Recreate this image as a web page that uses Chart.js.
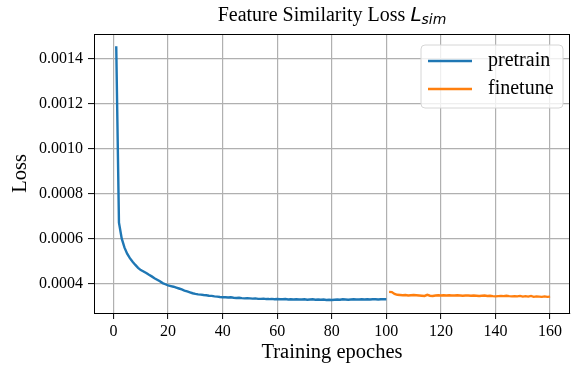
<!DOCTYPE html>
<html>
<head>
<meta charset="utf-8">
<script src="https://cdn.jsdelivr.net/npm/chart.js@4.4.0/dist/chart.umd.min.js"></script>
<style>
  html, body { margin: 0; padding: 0; background: #fff; }
  #wrap { width: 571px; height: 366px; }
</style>
</head>
<body>
<div id="wrap"><canvas id="canvass" width="571" height="366"></canvas></div>
<script>
// values
var pretrainLoss = [
  0.001455, 0.000670, 0.000600, 0.000560, 0.000532, 0.000512, 0.000496, 0.000482, 0.000469, 0.000459,
  0.000453, 0.000446, 0.000438, 0.000431, 0.000423, 0.000416, 0.000409, 0.000401, 0.000396, 0.000391,
  0.000388, 0.000385, 0.000381, 0.000377, 0.000373, 0.000368, 0.000364, 0.000360, 0.000356, 0.000353,
  0.000351, 0.000350, 0.000348, 0.000347, 0.000345, 0.000344, 0.000342, 0.000341, 0.000339, 0.000338,
  0.000338, 0.000337, 0.000338, 0.000336, 0.000335, 0.000336, 0.000334, 0.000333, 0.000334, 0.000333,
  0.000332, 0.000333, 0.000331, 0.000331, 0.000332, 0.000330, 0.000330, 0.000331, 0.000329, 0.000330,
  0.000329, 0.000329, 0.000330, 0.000328, 0.000329, 0.000328, 0.000329, 0.000328, 0.000328, 0.000329,
  0.000327, 0.000328, 0.000329, 0.000327, 0.000328, 0.000327, 0.000328, 0.000326, 0.000327, 0.000326,
  0.000327, 0.000328, 0.000327, 0.000329, 0.000328, 0.000327, 0.000328, 0.000329, 0.000328, 0.000328,
  0.000329, 0.000328, 0.000329, 0.000328, 0.000329, 0.000329, 0.000328, 0.000329, 0.000329, 0.000329
];
var finetuneLoss = [
  0.000362, 0.000361, 0.000353, 0.000349, 0.000348, 0.000347, 0.000348, 0.000346, 0.000347, 0.000348,
  0.000347, 0.000346, 0.000345, 0.000344, 0.000349, 0.000345, 0.000344, 0.000346, 0.000347, 0.000346,
  0.000347, 0.000346, 0.000347, 0.000346, 0.000346, 0.000347, 0.000346, 0.000345, 0.000346, 0.000346,
  0.000345, 0.000346, 0.000345, 0.000344, 0.000345, 0.000346, 0.000344, 0.000345, 0.000343, 0.000342,
  0.000343, 0.000344, 0.000343, 0.000345, 0.000343, 0.000342, 0.000343, 0.000342, 0.000344, 0.000341,
  0.000343, 0.000341, 0.000344, 0.000340, 0.000342, 0.000341, 0.000340, 0.000342, 0.000340, 0.000341
];
var pretrainStart = 1;
var finetuneStart = 101;
var xTicks = [0, 20, 40, 60, 80, 100, 120, 140, 160];
var yTicks = [0.0004, 0.0006, 0.0008, 0.0010, 0.0012, 0.0014];
var seriesNames = ['pretrain', 'finetune'];
var seriesColors = ['#1f77b4', '#ff7f0e'];

function toPoints(vals, start) {
    return vals.map(function (v, i) { return { x: start + i, y: v }; });
}

var serif = "'Liberation Serif', 'Times New Roman', serif";

// title with math part, box frame and legend like matplotlib
var extras = {
    id: 'extras',
    afterDraw: function (chart) {
        var ctx = chart.ctx;
        var a = chart.chartArea;
        ctx.save();
        // frame
        ctx.strokeStyle = '#000';
        ctx.lineWidth = 1;
        ctx.strokeRect(a.left + 0.5, a.top + 0.5, a.right - a.left - 1, a.bottom - a.top);

        // title
        var t1 = 'Feature Similarity Loss ';
        ctx.font = '20px ' + serif;
        var w1 = ctx.measureText(t1).width;
        ctx.font = 'italic 20px "DejaVu Sans"';
        var wL = ctx.measureText('L').width;
        ctx.font = 'italic 14px "DejaVu Sans"';
        var wS = ctx.measureText('sim').width;
        var x0 = (a.left + a.right) / 2 - (w1 + wL + wS) / 2;
        var base = 21;
        ctx.fillStyle = '#000';
        ctx.textBaseline = 'alphabetic';
        ctx.textAlign = 'left';
        ctx.font = '20px ' + serif;
        ctx.fillText(t1, x0, base);
        ctx.font = 'italic 20px "DejaVu Sans"';
        ctx.fillText('L', x0 + w1, base);
        ctx.font = 'italic 14px "DejaVu Sans"';
        ctx.fillText('sim', x0 + w1 + wL, base + 3);

        // legend
        var bx = 421, by = 45, bw = 142, bh = 63, r = 4;
        ctx.beginPath();
        ctx.moveTo(bx + r, by);
        ctx.arcTo(bx + bw, by, bx + bw, by + bh, r);
        ctx.arcTo(bx + bw, by + bh, bx, by + bh, r);
        ctx.arcTo(bx, by + bh, bx, by, r);
        ctx.arcTo(bx, by, bx + bw, by, r);
        ctx.closePath();
        ctx.fillStyle = 'rgba(255,255,255,0.8)';
        ctx.fill();
        ctx.strokeStyle = '#d6d6d6';
        ctx.lineWidth = 1;
        ctx.stroke();
        ctx.font = '20px ' + serif;
        ctx.textBaseline = 'middle';
        chart.data.datasets.forEach(function (ds, i) {
            var ly = 61 + i * 28;
            ctx.strokeStyle = ds.borderColor;
            ctx.lineWidth = 2.4;
            ctx.beginPath();
            ctx.moveTo(428, ly);
            ctx.lineTo(472, ly);
            ctx.stroke();
            ctx.fillStyle = '#000';
            ctx.fillText(ds.label, 488, ly);
        });
        ctx.restore();
    }
};

var ctx = document.getElementById('canvass').getContext('2d');
var myLineChart = new Chart(ctx, {
    type: 'line',
    data: {
        datasets: [{
            label: seriesNames[0],
            data: toPoints(pretrainLoss, pretrainStart),
            borderColor: seriesColors[0],
            backgroundColor: seriesColors[0],
            borderWidth: 2.4,
            pointRadius: 0,
            tension: 0
        }, {
            label: seriesNames[1],
            data: toPoints(finetuneLoss, finetuneStart),
            borderColor: seriesColors[1],
            backgroundColor: seriesColors[1],
            borderWidth: 2.4,
            pointRadius: 0,
            tension: 0
        }]
    },
    options: {
        responsive: false,
        animation: false,
        layout: { padding: { left: 0, top: 34, right: 1, bottom: 0 } },
        plugins: { legend: { display: false }, tooltip: { enabled: false } },
        scales: {
            x: {
                type: 'linear',
                min: -7.15,
                max: 167.3,
                afterBuildTicks: function (scale) {
                    scale.ticks = xTicks.map(function (v) { return { value: v }; });
                },
                afterFit: function (scale) { scale.height = 53; },
                ticks: {
                    color: '#000',
                    font: { family: serif, size: 16 },
                    padding: 3,
                    maxRotation: 0,
                    callback: function (v) { return String(v); }
                },
                grid: { color: '#b0b0b0', lineWidth: 1.2, tickLength: 6, tickColor: '#000', tickWidth: 1 },
                border: { color: '#000', width: 1 },
                title: {
                    display: true,
                    text: 'Training epoches',
                    color: '#000',
                    font: { family: serif, size: 20.5 },
                    padding: { top: 0, bottom: 1 }
                }
            },
            y: {
                type: 'linear',
                min: 0.000268,
                max: 0.00151,
                afterBuildTicks: function (scale) {
                    scale.ticks = yTicks.map(function (v) { return { value: v }; });
                },
                afterFit: function (scale) { scale.width = 94; },
                ticks: {
                    color: '#000',
                    font: { family: serif, size: 16 },
                    padding: 5,
                    callback: function (v) { return v.toFixed(4); }
                },
                grid: { color: '#b0b0b0', lineWidth: 1.2, tickLength: 6, tickColor: '#000', tickWidth: 1 },
                border: { color: '#000', width: 1 },
                title: {
                    display: true,
                    text: 'Loss',
                    color: '#000',
                    font: { family: serif, size: 20.5 },
                    padding: { top: 8, bottom: 0 }
                }
            }
        }
    },
    plugins: [extras]
});
</script>
</body>
</html>
